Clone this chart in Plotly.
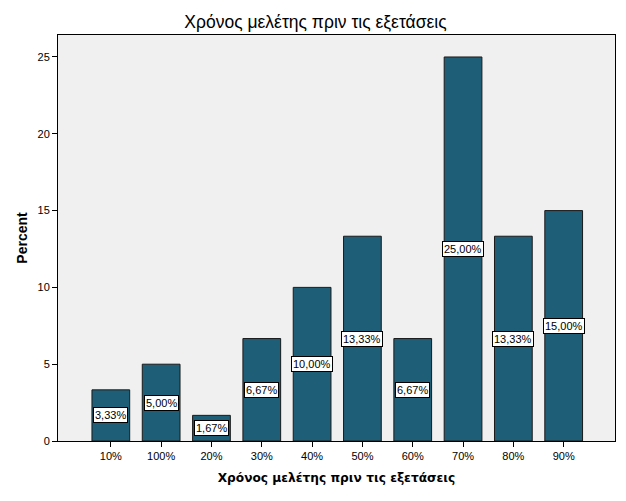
import plotly.graph_objects as go

categories = ["10%", "100%", "20%", "30%", "40%", "50%", "60%", "70%", "80%", "90%"]
percents = [3.33, 5.00, 1.67, 6.67, 10.00, 13.33, 6.67, 25.00, 13.33, 15.00]
labels = ["3,33%", "5,00%", "1,67%", "6,67%", "10,00%", "13,33%", "6,67%", "25,00%", "13,33%", "15,00%"]
y_ticks = [0, 5, 10, 15, 20, 25]

title_text = "Χρόνος μελέτης πριν τις εξετάσεις"

fig = go.Figure()
fig.add_trace(go.Bar(
    x=list(range(len(categories))), y=percents,
    width=0.75,
    marker=dict(color="#1F5E77", line=dict(color="#1a1a1a", width=1)),
    hoverinfo="skip",
))

for i, (v, lab) in enumerate(zip(percents, labels)):
    fig.add_annotation(
        x=i, y=v / 2, text=lab, showarrow=False,
        font=dict(family="Liberation Sans, Arial", size=11, color="black"),
        bgcolor="white", bordercolor="black", borderwidth=1, borderpad=1,
    )

fig.update_layout(
    width=626, height=501,
    margin=dict(l=58, r=11, t=35, b=60),
    paper_bgcolor="white", plot_bgcolor="#F0F0F0",
    showlegend=False,
    title=dict(text=title_text, x=0.504, xanchor="center", y=0.956, yanchor="middle",
               font=dict(family="Liberation Sans, Arial", size=17.5, color="black")),
    xaxis=dict(
        tickmode="array", tickvals=list(range(len(categories))), ticktext=categories,
        range=[-1.05, 10.02], showgrid=False, zeroline=False,
        ticks="outside", ticklen=5, tickcolor="black",
        showline=True, linecolor="black", linewidth=1, mirror=True,
        tickfont=dict(family="Liberation Sans, Arial", size=11, color="black"),
        title=dict(text="<b>" + title_text + "</b>", standoff=12,
                   font=dict(family="DejaVu Sans, Verdana", size=12.2, color="black")),
    ),
    yaxis=dict(
        tickmode="array", tickvals=y_ticks, range=[0, 26.43],
        showgrid=False, zeroline=False,
        ticks="outside", ticklen=5, tickcolor="black",
        showline=True, linecolor="black", linewidth=1, mirror=True,
        tickfont=dict(family="Liberation Sans, Arial", size=11, color="black"),
        title=dict(text="<b>Percent</b>", standoff=6,
                   font=dict(family="Liberation Sans, Arial", size=14, color="black")),
    ),
)

fig.write_html("out.html")
